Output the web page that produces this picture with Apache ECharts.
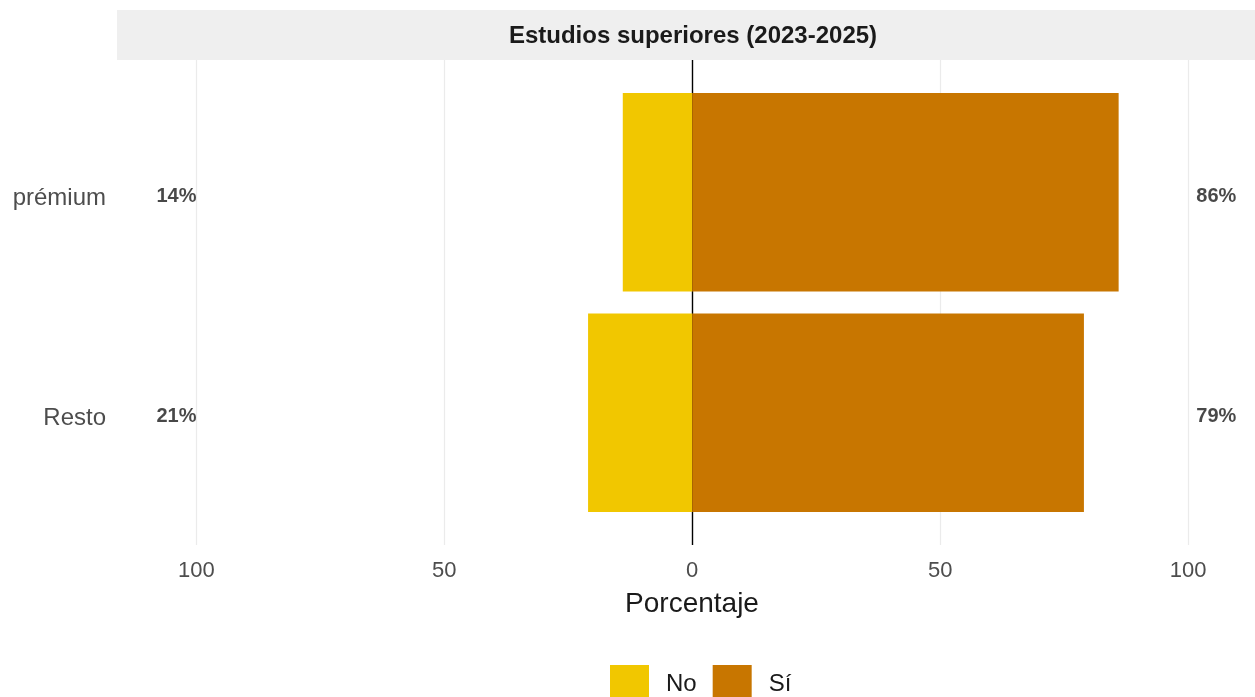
<!DOCTYPE html>
<html><head><meta charset="utf-8">
<script src="https://cdn.jsdelivr.net/npm/echarts@6/dist/echarts.min.js"></script>
<style>html,body{margin:0;padding:0;background:#fff}#c{width:1255px;height:697px}</style>
</head><body><div id="c"></div>
<script>
var categories = ['prémium', 'Resto'];
var noValues = [14, 21];
var siValues = [86, 79];
var seriesNames = ['No', 'Sí'];
var tickValues = [-100, -50, 0, 50, 100];
var titleText = 'Estudios superiores (2023-2025)';
var axisName = 'Porcentaje';

var FONT = '"Liberation Sans", Arial, sans-serif';
var XMIN = -116, XMAX = 113.5, NO_LABEL_X = -104, SI_LABEL_X = 105.7;
var YELLOW = '#F1C700', ORANGE = '#C87600';

var chart = echarts.init(document.getElementById('c'), null, {renderer: 'canvas'});
var labelStyle = {show: true, position: 'inside', offset: [0, 4],
  formatter: function (p) { return p.data[2] + '%'; },
  fontSize: 20, fontWeight: 'bold', color: '#1a1a1a', fontFamily: FONT};
var option = {
  animation: false,
  textStyle: {fontFamily: FONT},
  graphic: [
    {type: 'rect', left: 117, top: 10, shape: {width: 1138, height: 50}, style: {fill: '#EFEFEF'}, z: 0, zlevel: 0},
    {type: 'text', x: 693, y: 36, style: {text: titleText, textAlign: 'center', textVerticalAlign: 'middle', font: 'bold 24px ' + FONT, fill: '#1a1a1a'}}
  ],
  legend: {
    data: seriesNames, left: 605, top: 660, itemWidth: 39, itemHeight: 38, itemGap: 16,
    icon: 'rect',
    textStyle: {fontSize: 24, color: '#1a1a1a', fontFamily: FONT, padding: [4, 0, 0, 12]}
  },
  grid: [
    {left: 117, right: 0, top: 60, bottom: 152},
    {left: 117, right: 0, top: 82, bottom: 174}
  ],
  xAxis: [
    {gridIndex: 0, type: 'value', min: XMIN, max: XMAX,
     axisLine: {show: false}, axisTick: {show: false}, splitLine: {show: false},
     axisLabel: {customValues: tickValues, formatter: function (v) { return Math.abs(v); }, fontSize: 22, color: '#4d4d4d', margin: 15, fontFamily: FONT},
     name: axisName, nameLocation: 'middle', nameGap: 45,
     nameTextStyle: {fontSize: 28, color: '#1a1a1a', fontFamily: FONT, padding: [0, 0, 0, 12]}},
    {gridIndex: 1, type: 'value', min: XMIN, max: XMAX, show: false}
  ],
  yAxis: [
    {gridIndex: 0, type: 'value', show: false},
    {gridIndex: 1, type: 'category', data: categories, inverse: true,
     axisLine: {show: false}, axisTick: {show: false}, splitLine: {show: false},
     axisLabel: {fontSize: 24, color: '#4d4d4d', margin: 11, fontFamily: FONT, verticalAlign: 'top', lineHeight: 12}}
  ],
  series: [
    {type: 'line', xAxisIndex: 0, yAxisIndex: 0, data: [], silent: true, zlevel: 0,
     markLine: {silent: true, symbol: 'none', label: {show: false},
       data: tickValues.map(function (v) {
         return {xAxis: v, lineStyle: v === 0 ? {color: '#000', width: 1.4, type: 'solid'} : {color: '#EBEBEB', width: 1.2, type: 'solid'}};
       })}},
    {name: seriesNames[0], type: 'bar', xAxisIndex: 1, yAxisIndex: 1, stack: 'a', barWidth: '90%', zlevel: 1,
     itemStyle: {color: YELLOW}, data: noValues.map(function (v) { return -v; })},
    {name: seriesNames[1], type: 'bar', xAxisIndex: 1, yAxisIndex: 1, stack: 'a', barWidth: '90%', zlevel: 1,
     itemStyle: {color: ORANGE}, data: siValues},
    {type: 'scatter', xAxisIndex: 1, yAxisIndex: 1, symbolSize: 0, silent: true, zlevel: 1,
     data: noValues.map(function (v, i) { return [NO_LABEL_X, categories[i], v]; }), label: labelStyle},
    {type: 'scatter', xAxisIndex: 1, yAxisIndex: 1, symbolSize: 0, silent: true, zlevel: 1,
     data: siValues.map(function (v, i) { return [SI_LABEL_X, categories[i], v]; }), label: labelStyle}
  ]
};
chart.setOption(option);
</script></body></html>
